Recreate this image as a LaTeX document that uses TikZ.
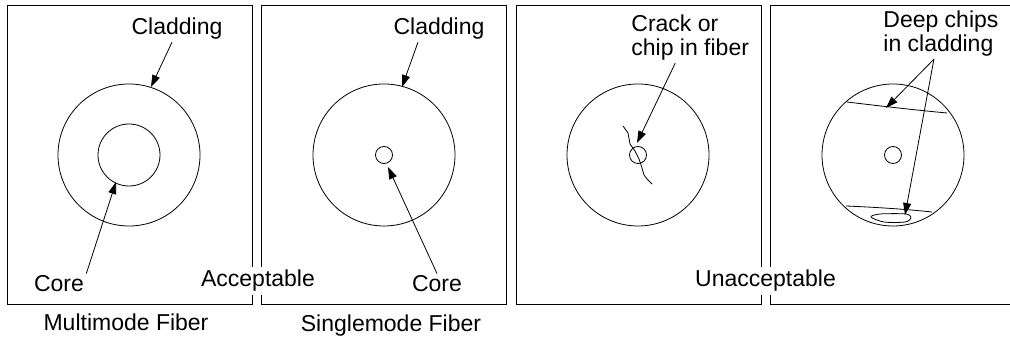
\documentclass[tikz,border=0pt]{standalone}
\usepackage{fontspec}
\setmainfont{Liberation Sans}
\usetikzlibrary{arrows.meta}

\begin{document}
\begin{tikzpicture}[x=1pt,y=-1pt,line width=0.8pt,
    lbl/.style={font=\fontsize{23}{24}\selectfont,inner sep=2pt,anchor=base},
    ptr/.style={-{Triangle[length=12pt,width=8pt]}}]
			\clip (0,0) rectangle (1010,344);
			% panels
			\foreach \x in {7,261,516,770} \draw (\x,5) rectangle ++(245,299);
			% cladding and core of each fiber
			\foreach \c/\r in {129/31,384/8.5,638/8.5,893/8.5} {
				\draw (\c,155) circle (71pt);
				\draw (\c,155) circle (\r pt);
			}
			% crack through the core
			\draw[line join=round] (623,126) -- (628,133) -- (630,144) -- (635,151) -- (639,159)
				-- (642,168) -- (644,175) -- (647,179) -- (652,184);
			% chips in cladding
			\draw (847,102) .. controls (880,106) and (915,110) .. (947,113);
			\draw (846,206) .. controls (870,207) and (905,209) .. (932,212);
			\draw plot[smooth cycle] coordinates {(871,217) (880,214) (906,214) (911,218) (905,222) (884,222)};
			% labels
			\node[lbl] (clad1) at (177,35) {Cladding};
			\node[lbl] (core1) at (59,292) {Core};
			\node[lbl] (multi) at (126,331) {Multimode Fiber};
			\node[lbl] (clad2) at (439,35) {Cladding};
			\node[lbl] (core2) at (437,292) {Core};
			\node[lbl] (single) at (391,332) {Singlemode Fiber};
			\node[lbl,fill=white,inner ysep=3pt] (good) at (258,287) {Acceptable};
			\node[lbl,fill=white,inner ysep=3pt] (bad) at (765.5,287) {Unacceptable};
			\node[lbl,anchor=base west,align=left] (crack) at (629,56) {Crack or\\chip in fiber};
			\node[lbl,anchor=base west,align=left] (chips) at (881,52) {Deep chips\\in cladding};
			% pointers
			\coordinate (t1) at (151,87);
			\coordinate (t2) at (116,182);
			\coordinate (t3) at (402,87);
			\coordinate (t4) at (388,167);
			\coordinate (t5) at (637,143);
			\coordinate (t6) at (886,108);
			\coordinate (t7) at (905,215);
			\draw[ptr] ([xshift=-5pt]clad1.south) -- (t1);
			\draw[ptr] (core1.north east) -- (t2);
			\draw[ptr] ([xshift=-21pt]clad2.south) -- (t3);
			\draw[ptr] (core2.north) -- (t4);
			\draw[ptr] ([xshift=-15pt]crack.south) -- (t5);
			\draw[ptr] ([xshift=-7pt]chips.south) -- (t6);
			\draw[ptr] ([xshift=-7pt]chips.south) -- (t7);
		\end{tikzpicture}
\end{document}
